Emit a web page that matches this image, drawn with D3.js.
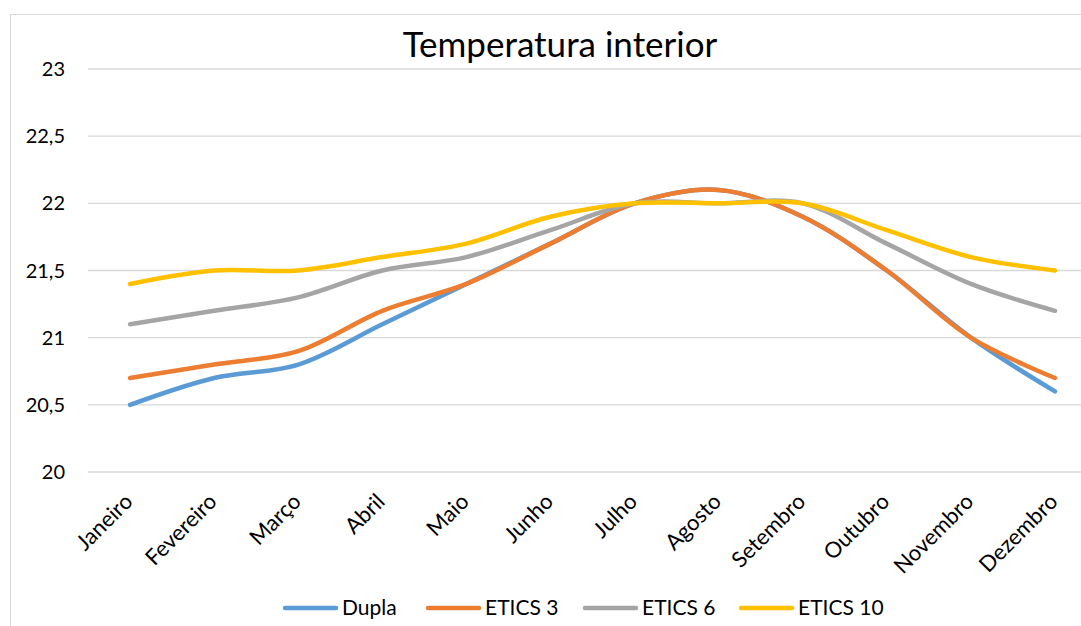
<!DOCTYPE html>
<html>
<head>
<meta charset="utf-8">
<script src="https://cdn.jsdelivr.net/npm/d3@7"></script>
<style>
  body { margin: 0; background: #fff; }
  svg { font-family: Lato, "Open Sans", sans-serif; }
</style>
</head>
<body>
<div id="chart"></div>
<script>
// Data
const months = ["Janeiro", "Fevereiro", "Março", "Abril", "Maio", "Junho",
  "Julho", "Agosto", "Setembro", "Outubro", "Novembro", "Dezembro"];
const dupla   = [20.5, 20.7, 20.8, 21.1, 21.4, 21.7, 22.0, 22.1, 21.9, 21.5, 21.0, 20.6];
const etics3  = [20.7, 20.8, 20.9, 21.2, 21.4, 21.7, 22.0, 22.1, 21.9, 21.5, 21.0, 20.7];
const etics6  = [21.1, 21.2, 21.3, 21.5, 21.6, 21.8, 22.0, 22.0, 22.0, 21.7, 21.4, 21.2];
const etics10 = [21.4, 21.5, 21.5, 21.6, 21.7, 21.9, 22.0, 22.0, 22.0, 21.8, 21.6, 21.5];
const yTicks = [20, 20.5, 21, 21.5, 22, 22.5, 23];

const series = [
  { name: "Dupla", values: dupla, color: "#5B9BD5" },
  { name: "ETICS 3", values: etics3, color: "#ED7D31" },
  { name: "ETICS 6", values: etics6, color: "#A5A5A5" },
  { name: "ETICS 10", values: etics10, color: "#FFC000" }
];

const W = 1081, H = 626;
const svg = d3.select("#chart").append("svg")
  .attr("width", W).attr("height", H);

// chart frame
svg.append("rect")
  .attr("x", 10.5).attr("y", 14.5)
  .attr("width", 1200).attr("height", 800)
  .attr("fill", "#fff").attr("stroke", "#d9d9d9");

const x = d3.scalePoint().domain(months).range([88, 1097]).padding(0.5);
const y = d3.scaleLinear().domain([20, 23]).range([472, 69]);

// Gridlines
svg.append("g")
  .selectAll("line")
  .data(yTicks)
  .enter().append("line")
  .attr("x1", 88).attr("x2", 1097)
  .attr("y1", d => y(d)).attr("y2", d => y(d))
  .attr("stroke", "#d9d9d9").attr("stroke-width", 1.3);

// Y axis labels
const fmt = d => String(d).replace(".", ",");
svg.append("g")
  .selectAll("text")
  .data(yTicks)
  .enter().append("text")
  .attr("x", 65).attr("y", d => y(d))
  .attr("dy", "0.35em")
  .attr("text-anchor", "end")
  .attr("font-size", 20)
  .attr("fill", "#000")
  .text(fmt);

// X axis labels
svg.append("g")
  .selectAll("text")
  .data(months)
  .enter().append("text")
  .attr("transform", d => `translate(${x(d) + 4},${503}) rotate(-45)`)
  .attr("text-anchor", "end")
  .attr("font-size", 22)
  .attr("fill", "#000")
  .text(d => d);

// Title
svg.append("text")
  .attr("x", 560).attr("y", 57)
  .attr("text-anchor", "middle")
  .attr("font-size", 35)
  .attr("fill", "#000")
  .text("Temperatura interior");

// Lines
const line = d3.line()
  .x((d, i) => x(months[i]))
  .y(d => y(d))
  .curve(d3.curveCatmullRom.alpha(0.5));

svg.append("g")
  .selectAll("path")
  .data(series)
  .enter().append("path")
  .attr("d", d => line(d.values))
  .attr("fill", "none")
  .attr("stroke", d => d.color)
  .attr("stroke-width", 4.5)
  .attr("stroke-linecap", "round")
  .attr("stroke-linejoin", "round");

// Legend
const legendX = [285, 428, 585, 741];
const legend = svg.append("g")
  .selectAll("g")
  .data(series)
  .enter().append("g")
  .attr("transform", (d, i) => `translate(${legendX[i]},608)`);

legend.append("line")
  .attr("x1", 0).attr("x2", 51)
  .attr("stroke", d => d.color)
  .attr("stroke-width", 4.5)
  .attr("stroke-linecap", "round");

legend.append("text")
  .attr("x", 57).attr("dy", "0.35em")
  .attr("font-size", 21)
  .attr("fill", "#000")
  .text(d => d.name);
</script>
</body>
</html>
